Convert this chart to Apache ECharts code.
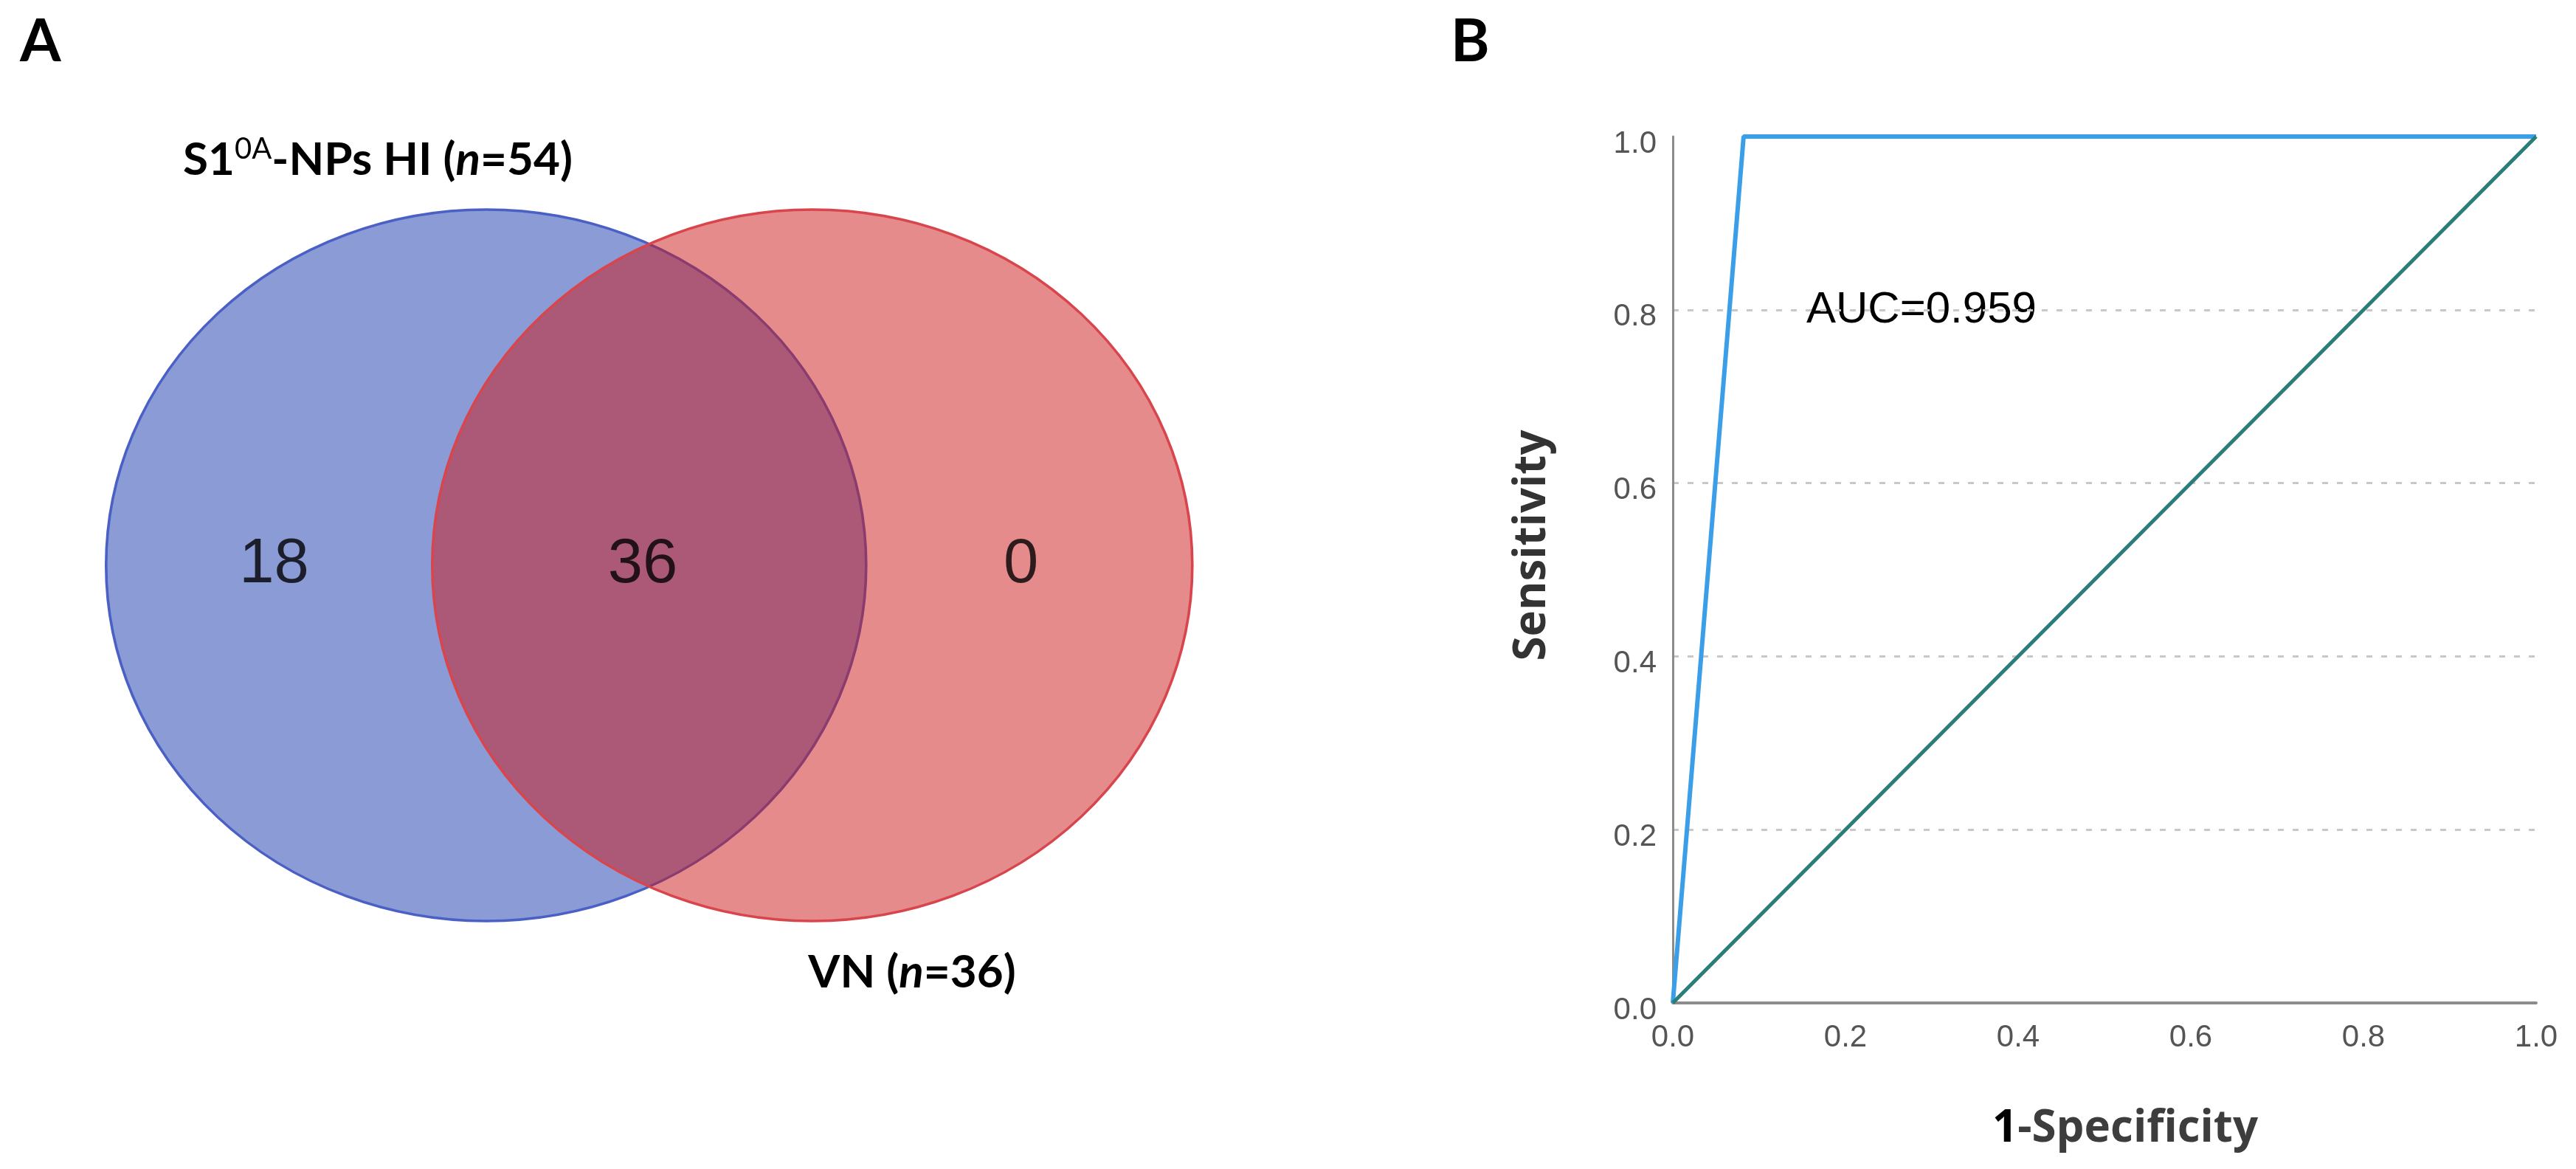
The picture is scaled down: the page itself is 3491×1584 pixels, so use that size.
<!DOCTYPE html>
<html>
<head>
<meta charset="utf-8">
<script src="https://cdn.jsdelivr.net/npm/echarts@6/dist/echarts.min.js"></script>
<style>
  html, body { margin: 0; padding: 0; background: #ffffff; }
  #chart { width: 3491px; height: 1584px; }
</style>
</head>
<body>
<div id="chart"></div>
<script>
// ---------------- data ----------------
// Panel A: Venn diagram
const setNames = ['S1', 'VN'];
const setSizes = [54, 36];
const regionNames = ['S1 only', 'both', 'VN only'];
const regionCounts = [18, 36, 0];

// Panel B: ROC curve
const rocFpr = [0, 0.082, 1];
const rocTpr = [0, 1, 1];
const refFpr = [0, 1];
const refTpr = [0, 1];
const axisTicks = [0, 0.2, 0.4, 0.6, 0.8, 1.0];
const aucValue = [0.959];

// ---------------- layout (not data) ----------------
const vennCenterX = [0, 1];          // set centres in the hidden Venn grid
const vennRegionX = [-0.65, 0.48, 1.64];
const vennStyles = [
  { fill: '#8a9bd6', stroke: '#4a60c4' },
  { fill: 'rgba(203,23,23,0.5)', stroke: '#d9454c' }
];

const chart = echarts.init(document.getElementById('chart'), null, { renderer: 'canvas' });

const ellipseData = setNames.map((n, i) => ({
  name: n,
  value: [vennCenterX[i], 0, setSizes[i]],
  itemStyle: { color: vennStyles[i].fill, borderColor: vennStyles[i].stroke, borderWidth: 3.5, opacity: 1 }
}));
const countData = regionNames.map((n, i) => ({ name: n, value: [vennRegionX[i], 0, regionCounts[i]] }));

const rocData = rocFpr.map((x, i) => [x, rocTpr[i]]);
const refData = refFpr.map((x, i) => [x, refTpr[i]]);

const boldLato = { fontFamily: 'Lato', fontWeight: 'bold', fontSize: 62, lineHeight: 70, fill: '#000', color: '#000' };
const italLato = Object.assign({}, boldLato, { fontStyle: 'italic' });
const supLato = { fontFamily: 'Lato', fontWeight: 'normal', fontSize: 40, lineHeight: 50, verticalAlign: 'top', fill: '#000', color: '#000' };

const option = {
  backgroundColor: '#ffffff',
  animation: false,
  grid: [
    { left: 40, top: 266, width: 1768, height: 1000, show: false },
    { left: 2267, top: 185, width: 1170, height: 1174, show: false }
  ],
  xAxis: [
    { gridIndex: 0, type: 'value', min: -1.4, max: 2.6, show: false },
    {
      gridIndex: 1, type: 'value', min: 0, max: 1, interval: 0.2,
      axisLine: { show: true, onZero: false, lineStyle: { color: '#8c8c8c', width: 4 } },
      axisTick: { show: false },
      splitLine: { show: false },
      axisLabel: {
        margin: 26, fontFamily: 'Liberation Sans', fontSize: 42, color: '#555555',
        formatter: v => v.toFixed(1)
      },
      name: '{one|1}{rest|-Specificity}',
      nameLocation: 'middle',
      nameGap: 141,
      nameTextStyle: {
        padding: [0, 0, 0, 56],
        rich: {
          one: { fontFamily: 'Open Sans', fontWeight: 'bold', fontSize: 60, color: '#000000' },
          rest: { fontFamily: 'Open Sans', fontWeight: 'bold', fontSize: 60, color: '#3d3d3d' }
        }
      }
    }
  ],
  yAxis: [
    { gridIndex: 0, type: 'value', min: -1, max: 1, show: false },
    {
      gridIndex: 1, type: 'value', min: 0, max: 1, interval: 0.2,
      axisLine: { show: true, onZero: false, lineStyle: { color: '#8c8c8c', width: 3 } },
      axisTick: { show: false },
      splitLine: {
        show: true,
        lineStyle: {
          color: ['rgba(0,0,0,0)', '#c8c8c8', '#c8c8c8', '#c8c8c8', '#c8c8c8', 'rgba(0,0,0,0)'],
          width: 3, type: [8, 12]
        }
      },
      axisLabel: {
        margin: 22, fontFamily: 'Liberation Sans', fontSize: 42, color: '#555555',
        verticalAlign: 'top', lineHeight: 20,
        formatter: v => v.toFixed(1)
      },
      name: 'Sensitivity',
      nameLocation: 'middle',
      nameGap: 160,
      nameRotate: 90,
      nameTextStyle: {
        fontFamily: 'Open Sans', fontWeight: 'bold', fontSize: 60, color: '#333333',
        padding: [0, 0, 0, 66]
      }
    }
  ],
  series: [
    {
      type: 'scatter', xAxisIndex: 0, yAxisIndex: 0,
      symbol: 'circle', symbolSize: [1030, 964],
      data: ellipseData, silent: true, clip: false, z: 1
    },
    {
      type: 'scatter', xAxisIndex: 0, yAxisIndex: 0,
      symbolSize: 0, data: countData, silent: true, z: 3,
      label: {
        show: true, position: 'inside',
        formatter: p => String(p.value[2]),
        fontFamily: 'Liberation Sans', fontSize: 85, color: '#000000'
      }
    },
    {
      type: 'line', xAxisIndex: 1, yAxisIndex: 1, name: 'ROC',
      data: rocData, showSymbol: false, clip: false, z: 3,
      lineStyle: { color: '#3a9fe8', width: 6 }
    },
    {
      type: 'line', xAxisIndex: 1, yAxisIndex: 1, name: 'Reference',
      data: refData, showSymbol: false, clip: false, z: 4,
      lineStyle: { color: '#2b7d7a', width: 5 }
    }
  ],
  graphic: [
    { type: 'text', x: 27, y: 57, style: { text: 'A', font: 'bold 80px Lato', fill: '#000', verticalAlign: 'middle', align: 'left' } },
    { type: 'text', x: 1966, y: 57, style: { text: 'B', font: 'bold 80px Lato', fill: '#000', verticalAlign: 'middle', align: 'left' } },
    {
      type: 'text', x: 512, y: 217,
      style: {
        text: '{b|' + setNames[0] + '}{sup|0A}{b|-NPs HI (}{i|n}{b|=' + setSizes[0] + ')}',
        align: 'center', verticalAlign: 'middle',
        rich: { b: boldLato, sup: supLato, i: italLato }
      }
    },
    {
      type: 'text', x: 1236, y: 1318,
      style: {
        text: '{b|' + setNames[1] + ' (}{i|n}{b|=' + setSizes[1] + ')}',
        align: 'center', verticalAlign: 'middle',
        rich: { b: boldLato, i: italLato }
      }
    },
    {
      type: 'text', x: 2448, y: 420,
      style: { text: 'AUC=' + aucValue[0].toFixed(3), font: '60px "Liberation Sans"', fill: '#000', verticalAlign: 'middle', align: 'left' }
    }
  ]
};

chart.setOption(option);
</script>
</body>
</html>
